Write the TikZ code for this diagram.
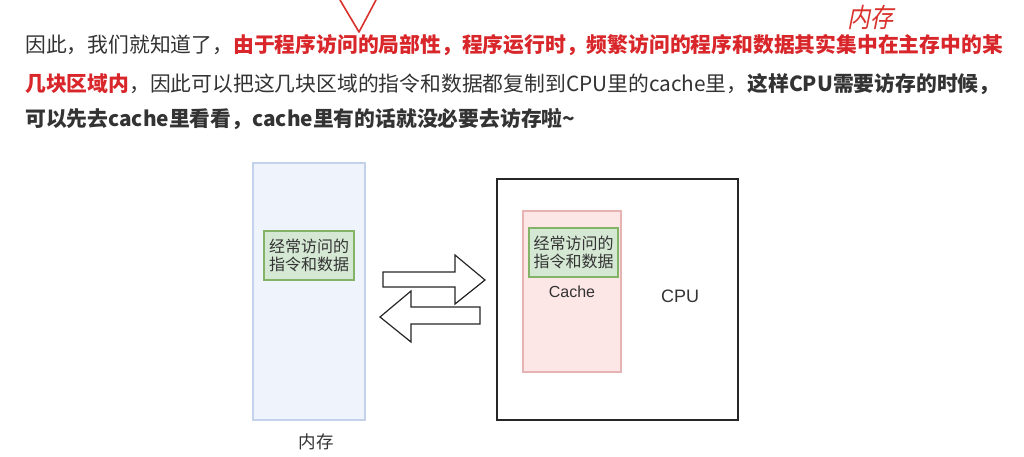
\documentclass[tikz,border=0pt]{standalone}
\usepackage{fontspec}
\setmainfont{Noto Sans CJK SC}
\newfontfamily\latsans{Liberation Sans}
\usepackage{tikz}
\usetikzlibrary{arrows.meta}

\definecolor{txtgrey}{HTML}{333333}
\definecolor{txtred}{HTML}{D8262A}
\definecolor{penred}{HTML}{D9322C}
\definecolor{memfill}{HTML}{EEF3FC}
\definecolor{memline}{HTML}{C3D2EA}
\definecolor{cachefill}{HTML}{FCE6E6}
\definecolor{cacheline}{HTML}{E6B3B3}
\definecolor{datafill}{HTML}{D5E8D4}
\definecolor{dataline}{HTML}{82B366}

\tikzset{
  line/.style={font=\fontsize{20.8}{24}\selectfont, text=txtgrey, anchor=west, inner sep=0pt},
  databox/.style={draw=dataline, fill=datafill, line width=1.2pt, align=center,
    font=\fontsize{16}{18}\selectfont, text=txtgrey, inner sep=0pt},
  blockarrow/.style={draw=black!85, fill=white, line width=1.2pt, line join=miter}
}

\begin{document}
\begin{tikzpicture}[x=1pt,y=-1pt]
	\useasboundingbox [fill=white] (0,0) rectangle (1024,456);
	
	% the text above
	\node [line] (l1) at (25,45) {因此，我们就知道了，\textbf{\color{txtred}由于程序访问的局部性，程序运行时，频繁访问的程序和数据其实集中在主存中的某}};
	\node [line] (l2) at (25,84) {\textbf{\color{txtred}几块区域内}，因此可以把这几块区域的指令和数据都复制到CPU里的cache里，\textbf{这样CPU需要访存的时候，}};
	\node [line] (l3) at (25,119) {\textbf{可以先去cache里看看，cache里有的话就没必要去访存啦\char`~}};
	
	% pen marks
	\draw [penred, line width=1.6pt, line cap=round, line join=round] (340,0) -- (359,32) -- (376,0);
	\node [text=penred, font=\fontsize{23}{23}\selectfont, xslant=0.2, yscale=1.15, inner sep=0pt] (pen) at (872,17) {内存};
	
	% main memory
	\node [draw=memline, fill=memfill, line width=1.2pt, minimum width=112pt, minimum height=257pt] (mem) at (309,291.5) {};
	\node [databox, minimum width=90pt, minimum height=49pt] (memdata) at (309,255.5) {经常访问的\\指令和数据};
	\node [text=txtgrey, font=\fontsize{17.5}{18}\selectfont] (memlabel) at (316,442) {内存};
	
	% the two arrows
	\draw [blockarrow] (383,272) -- (455,272) -- (455,255) -- (485,280) -- (455,304) -- (455,287) -- (383,287) -- cycle;
	\draw [blockarrow] (480,307) -- (411,307) -- (411,291) -- (380,317) -- (411,342) -- (411,324) -- (480,324) -- cycle;
	
	% cpu and cache
	\node [draw=black!85, line width=1.2pt, minimum width=241pt, minimum height=241pt] (cpu) at (617.5,299.5) {};
	\node [draw=cacheline, fill=cachefill, line width=1.2pt, minimum width=98pt, minimum height=161pt] (cache) at (572,291.5) {};
	\node [databox, minimum width=89pt, minimum height=49pt] (cachedata) at (573.5,252.5) {经常访问的\\指令和数据};
	\node [text=txtgrey, font=\latsans\fontsize{16}{18}\selectfont] (cachelabel) at (572,292) {Cache};
	\node [text=txtgrey, font=\latsans\fontsize{18}{20}\selectfont] (cpulabel) at (680,296) {CPU};
	
\end{tikzpicture}
\end{document}
